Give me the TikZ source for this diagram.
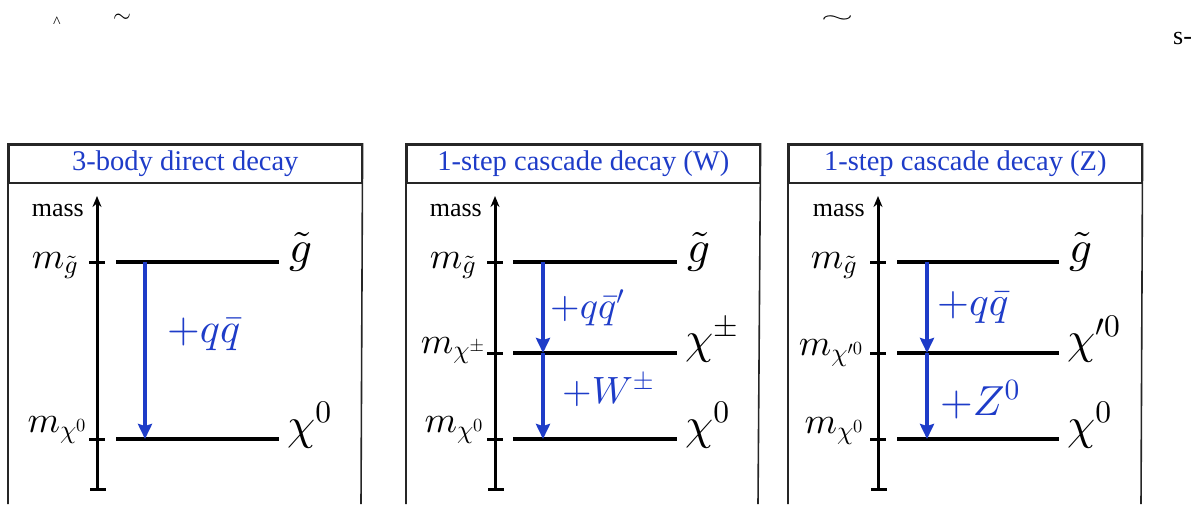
\documentclass[tikz,border=0pt]{standalone}
\usepackage[no-math]{fontspec}
\setmainfont{Liberation Serif}
\DeclareFontShape{OML}{cmm}{m}{it}{<->cmmi10}{}
\DeclareFontShape{OMS}{cmsy}{m}{n}{<->cmsy10}{}
\DeclareFontShape{OT1}{cmr}{m}{n}{<->cmr10}{}
\DeclareFontShape{OMX}{cmex}{m}{n}{<->cmex10}{}
\usetikzlibrary{arrows.meta}
\definecolor{dblue}{RGB}{30,60,200}
\tikzset{
  panelhead/.style={draw=black!85, line width=1.6pt, minimum width=353pt, minimum height=38pt,
    anchor=north west, inner sep=0pt, text=dblue, font=\fontsize{28.5}{30}\selectfont},
  panelside/.style={draw=black!85, line width=1.6pt},
  axisline/.style={line width=3pt, -{Stealth[length=11pt,width=9pt]}},
  tickline/.style={line width=3pt},
  levelline/.style={line width=3.3pt},
  decay/.style={draw=dblue, line width=3.3pt, -{Stealth[length=15pt,width=14pt,inset=2pt]}},
  masslab/.style={font=\fontsize{26}{28}\selectfont, anchor=base east, inner sep=0pt},
  leftlab/.style={font=\fontsize{37}{40}\selectfont, anchor=base, inner sep=0pt},
  rightlab/.style={font=\fontsize{45}{48}\selectfont, anchor=base west, inner sep=0pt},
  decaylab/.style={anchor=base west, inner sep=0pt, text=dblue},
  stray/.style={inner sep=0pt, anchor=base west},
}
\begin{document}
\begin{tikzpicture}[x=1pt,y=-1pt]
\useasboundingbox (0,0) rectangle (1202,504);
% stray fragments at the top
\node[stray, font=\fontsize{16}{18}\selectfont] (hat) at (53,27) {\textasciicircum};
\node[stray, font=\fontsize{23}{25}\selectfont] (tl) at (113,22) {$\sim$};
\node[stray] (tr) at (821,22) {\scalebox{1.8}[0.8]{\fontsize{23}{25}\selectfont$\sim$}};
\node[stray, font=\fontsize{26}{28}\selectfont] (sdash) at (1173,44) {s-};

% ---------- panel 1 ----------
\begin{scope}[xshift=8pt]
\node[panelhead] (h1) at (0,144) {3-body direct decay};
\draw[panelside] (0,504) -- (h1.north west) -- (h1.north east) -- (353,504);
\coordinate (a1b) at (89,489);
\coordinate (a1t) at (89,196);
\draw[axisline] (a1b) -- (a1t);
\draw[tickline] (82,489) -- (98,489);
\draw[tickline] (81,262) -- (97,262);
\draw[tickline] (81,439) -- (97,439);
\node[masslab] (m1) at (76,216) {mass};
\coordinate (l1a) at (108,262); \coordinate (r1a) at (271,262);
\coordinate (l1c) at (108,439); \coordinate (r1c) at (271,439);
\draw[levelline] (l1a) -- (r1a);
\draw[levelline] (l1c) -- (r1c);
\node[leftlab] (ml1a) at (47,268) {$m_{\tilde g}$};
\node[leftlab] (ml1c) at (49,432) {$m_{\chi^0}$};
\node[rightlab] (n1a) at (281,262) {$\tilde g$};
\node[rightlab] (n1c) at (279,439) {$\chi^0$};
\coordinate (d1a) at (137,262); \coordinate (d1c) at (137,439);
\draw[decay] (d1a) -- (d1c);
\node[decaylab, font=\fontsize{42}{46}\selectfont] (q1) at (159,342) {$+q\bar q$};
\end{scope}

% ---------- panel 2 ----------
\begin{scope}[xshift=406pt]
\node[panelhead] (h2) at (0,144) {1-step cascade decay (W)};
\draw[panelside] (0,504) -- (h2.north west) -- (h2.north east) -- (352,504);
\coordinate (a2b) at (89,489);
\coordinate (a2t) at (89,196);
\draw[axisline] (a2b) -- (a2t);
\draw[tickline] (82,489) -- (98,489);
\draw[tickline] (81,262) -- (97,262);
\draw[tickline] (81,353) -- (97,353);
\draw[tickline] (81,439) -- (97,439);
\node[masslab] (m2) at (76,216) {mass};
\coordinate (l2a) at (107,262); \coordinate (r2a) at (271,262);
\coordinate (l2b) at (107,353); \coordinate (r2b) at (271,353);
\coordinate (l2c) at (107,439); \coordinate (r2c) at (271,439);
\draw[levelline] (l2a) -- (r2a);
\draw[levelline] (l2b) -- (r2b);
\draw[levelline] (l2c) -- (r2c);
\node[leftlab] (ml2a) at (47,268) {$m_{\tilde g}$};
\node[leftlab] (ml2b) at (47,353) {$m_{\chi^\pm}$};
\node[leftlab] (ml2c) at (48,432) {$m_{\chi^0}$};
\node[rightlab] (n2a) at (281,262) {$\tilde g$};
\node[rightlab] (n2b) at (279,353) {$\chi^\pm$};
\node[rightlab] (n2c) at (279,439) {$\chi^0$};
\coordinate (d2a) at (137,262); \coordinate (d2b) at (137,353); \coordinate (d2c) at (137,439);
\draw[decay] (d2a) -- (d2b);
\draw[decay] (d2b) -- (d2c);
\node[decaylab, font=\fontsize{38}{42}\selectfont] (q2) at (144,318) {$+q\bar q'$};
\node[decaylab, font=\fontsize{38}{42}\selectfont] (w2) at (156,403) {$+W^\pm$};
\end{scope}

% ---------- panel 3 ----------
\begin{scope}[xshift=788pt]
\node[panelhead] (h3) at (0,144) {1-step cascade decay (Z)};
\draw[panelside] (0,504) -- (h3.north west) -- (h3.north east) -- (353,504);
\coordinate (a3b) at (90,489);
\coordinate (a3t) at (90,196);
\draw[axisline] (a3b) -- (a3t);
\draw[tickline] (83,489) -- (99,489);
\draw[tickline] (82,262) -- (98,262);
\draw[tickline] (82,353) -- (98,353);
\draw[tickline] (82,439) -- (98,439);
\node[masslab] (m3) at (77,216) {mass};
\coordinate (l3a) at (109,262); \coordinate (r3a) at (271,262);
\coordinate (l3b) at (109,353); \coordinate (r3b) at (271,353);
\coordinate (l3c) at (109,439); \coordinate (r3c) at (271,439);
\draw[levelline] (l3a) -- (r3a);
\draw[levelline] (l3b) -- (r3b);
\draw[levelline] (l3c) -- (r3c);
\node[leftlab] (ml3a) at (46,268) {$m_{\tilde g}$};
\node[leftlab] (ml3b) at (43,355) {$m_{\chi'^0}$};
\node[leftlab] (ml3c) at (46,433) {$m_{\chi^0}$};
\node[rightlab] (n3a) at (281,262) {$\tilde g$};
\node[rightlab] (n3b) at (279,353) {$\chi'^0$};
\node[rightlab] (n3c) at (279,439) {$\chi^0$};
\coordinate (d3a) at (139,262); \coordinate (d3b) at (139,353); \coordinate (d3c) at (139,439);
\draw[decay] (d3a) -- (d3b);
\draw[decay] (d3b) -- (d3c);
\node[decaylab, font=\fontsize{41}{45}\selectfont] (q3) at (149,315) {$+q\bar q$};
\node[decaylab, font=\fontsize{42}{46}\selectfont] (z3) at (152,415) {$+Z^0$};
\end{scope}
\end{tikzpicture}
\end{document}
